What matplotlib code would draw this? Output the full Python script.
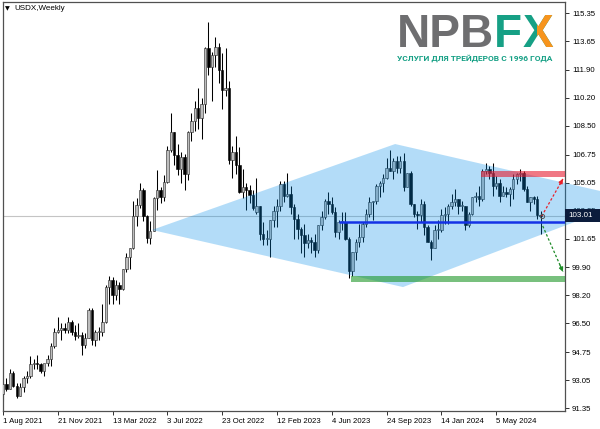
import matplotlib
matplotlib.use("Agg")
import matplotlib.pyplot as plt
from matplotlib.patches import Polygon, Rectangle
from matplotlib.transforms import IdentityTransform
import numpy as np

# ---------------- data (USDX weekly, from 1 Aug 2021) ----------------
opens = [92.2, 92.8, 92.5, 93.5, 92.7, 92.1, 92.6, 93.2, 93.3, 94.0,
         94.1, 94.0, 93.6, 94.1, 94.3, 95.1, 96.0, 96.1, 96.2, 96.1,
         96.6, 96.0, 95.7, 95.8, 95.2, 95.6, 97.3, 95.5, 96.0, 96.0,
         96.6, 98.7, 99.1, 98.2, 98.8, 98.6, 99.8, 100.5, 101.1, 103.0,
         103.7, 104.6, 103.0, 101.7, 102.1, 104.1, 104.6, 104.2, 105.1, 107.0,
         108.1, 106.7, 105.9, 106.6, 105.6, 108.1, 108.8, 109.6, 109.0, 109.8,
         113.2, 112.1, 112.8, 113.3, 111.9, 110.7, 110.8, 106.4, 106.9, 106.1,
         104.5, 104.8, 104.6, 104.3, 103.25, 103.65, 101.95, 101.65, 101.65, 102.75,
         103.35, 103.65, 104.95, 104.25, 104.35, 103.55, 102.85, 102.25, 101.85, 101.35,
         101.55, 101.45, 100.95, 102.45, 102.95, 103.95, 103.75, 103.25, 102.05, 102.65,
         102.65, 101.65, 99.65, 100.85, 101.45, 101.75, 102.55, 103.15, 103.85, 103.95,
         104.85, 105.05, 105.35, 105.95, 105.75, 106.35, 105.95, 106.35, 104.75, 105.65,
         103.75, 103.15, 103.05, 103.75, 102.35, 101.45, 101.05, 102.15, 102.15, 103.05,
         103.15, 103.65, 103.85, 104.05, 103.65, 103.65, 102.45, 103.15, 104.15, 104.25,
         104.05, 105.75, 105.85, 105.65, 104.85, 105.05, 104.25, 104.45, 104.35, 104.65,
         105.25, 105.55, 105.65, 104.65, 103.85, 104.15, 104.05, 103.05]
highs = [92.9, 93.2, 93.7, 93.6, 92.9, 92.9, 93.3, 93.6, 94.5, 94.3,
         94.6, 94.1, 94.0, 94.6, 95.3, 96.2, 96.9, 96.5, 96.5, 96.9,
         96.7, 96.4, 96.5, 96.0, 95.9, 97.4, 97.4, 96.1, 96.3, 97.7,
         98.8, 99.4, 99.3, 99.1, 99.0, 99.8, 100.8, 101.1, 103.9, 104.1,
         105.0, 104.7, 103.1, 102.7, 104.2, 105.8, 104.8, 105.5, 107.3, 109.3,
         108.1, 107.4, 106.9, 106.8, 108.2, 109.3, 110.0, 110.8, 110.2, 113.3,
         114.8, 113.0, 113.9, 113.5, 112.9, 113.2, 111.2, 107.3, 107.9, 107.2,
         105.9, 105.0, 104.9, 104.6, 105.35, 103.65, 102.65, 102.15, 102.75, 103.65,
         104.05, 105.15, 105.15, 105.65, 104.85, 103.75, 103.15, 102.35, 102.55, 101.95,
         101.75, 101.95, 102.45, 103.35, 104.05, 104.45, 104.15, 103.55, 102.75, 103.25,
         103.25, 101.75, 100.85, 101.65, 102.55, 102.65, 103.45, 104.15, 103.95, 104.95,
         105.15, 105.55, 106.55, 107.05, 106.55, 106.65, 106.65, 106.85, 105.65, 105.75,
         103.75, 103.35, 104.05, 103.95, 102.45, 101.55, 102.45, 102.75, 103.45, 103.55,
         103.75, 104.35, 104.65, 104.05, 103.95, 103.65, 103.25, 104.15, 104.45, 104.85,
         105.85, 106.25, 106.05, 106.25, 105.45, 105.25, 104.85, 104.75, 104.75, 105.55,
         105.65, 105.85, 105.75, 104.85, 104.15, 104.25, 104.25, 103.35]
lows = [91.8, 92.4, 92.5, 92.6, 91.95, 92.1, 92.3, 92.9, 93.2, 93.7,
        93.7, 93.5, 93.3, 93.9, 93.9, 95.0, 95.9, 95.5, 95.9, 95.9,
        95.8, 95.5, 95.6, 94.6, 95.0, 95.6, 95.2, 95.1, 95.5, 95.7,
        96.5, 97.7, 97.7, 97.9, 97.7, 98.5, 99.6, 99.8, 101.0, 102.4,
        103.5, 102.7, 101.4, 101.3, 102.1, 103.4, 103.8, 103.9, 105.0, 106.9,
        106.1, 105.5, 105.0, 104.6, 105.2, 107.6, 108.2, 108.3, 107.7, 109.3,
        111.6, 110.0, 112.1, 111.1, 109.5, 110.3, 106.2, 105.3, 105.6, 104.4,
        104.1, 103.4, 103.8, 103.4, 103.15, 101.55, 101.25, 101.25, 100.55, 102.35,
        102.35, 103.35, 103.85, 104.15, 103.15, 101.65, 101.65, 100.75, 100.55, 101.05,
        100.75, 100.55, 100.75, 102.15, 102.85, 103.15, 103.15, 101.75, 101.65, 102.15,
        101.55, 99.25, 99.35, 100.35, 101.15, 101.45, 102.35, 102.95, 102.75, 103.75,
        104.15, 104.45, 105.25, 105.75, 105.25, 105.65, 105.65, 104.55, 104.75, 103.65,
        102.95, 102.25, 102.65, 101.85, 101.45, 100.35, 101.05, 101.65, 102.05, 102.55,
        102.55, 103.45, 103.65, 103.15, 103.35, 102.15, 102.35, 103.05, 103.85, 103.65,
        103.95, 105.55, 105.25, 104.25, 104.65, 103.85, 104.25, 104.15, 103.65, 104.05,
        104.95, 105.15, 104.55, 103.85, 103.35, 103.75, 102.85, 101.95]
closes = [92.8, 92.5, 93.5, 92.7, 92.1, 92.6, 93.2, 93.3, 94.0, 94.1,
          94.0, 93.6, 94.1, 94.3, 95.1, 96.0, 96.1, 96.2, 96.1, 96.6,
          96.0, 95.7, 95.8, 95.2, 95.6, 97.3, 95.5, 96.0, 96.0, 96.6,
          98.7, 99.1, 98.2, 98.8, 98.6, 99.8, 100.5, 101.1, 103.0, 103.7,
          104.6, 103.0, 101.7, 102.1, 104.1, 104.6, 104.2, 105.1, 107.0, 108.1,
          106.7, 105.9, 106.6, 105.6, 108.1, 108.8, 109.6, 109.0, 109.8, 113.2,
          112.1, 112.8, 113.3, 111.9, 110.7, 110.8, 106.4, 106.9, 106.1, 104.5,
          104.8, 104.6, 104.3, 103.5, 103.65, 101.95, 101.65, 101.65, 102.75, 103.35,
          103.65, 104.95, 104.25, 104.35, 103.55, 102.85, 102.25, 101.85, 101.35, 101.55,
          101.45, 100.95, 102.45, 102.95, 103.95, 103.75, 103.25, 102.05, 102.65, 102.65,
          101.65, 99.65, 100.85, 101.45, 101.75, 102.55, 103.15, 103.85, 103.95, 104.85,
          105.05, 105.35, 105.95, 105.75, 106.35, 105.95, 106.35, 104.75, 105.65, 103.75,
          103.15, 103.05, 103.75, 102.35, 101.45, 101.05, 102.15, 102.15, 103.05, 103.15,
          103.65, 103.85, 104.05, 103.65, 103.65, 102.45, 103.15, 104.15, 104.25, 104.05,
          105.75, 105.85, 105.65, 104.85, 105.05, 104.25, 104.45, 104.35, 104.65, 105.25,
          105.55, 105.65, 104.65, 103.85, 104.15, 104.05, 103.05, 103.01]

date_labels = ["1 Aug 2021", "21 Nov 2021", "13 Mar 2022", "3 Jul 2022", "23 Oct 2022",
               "12 Feb 2023", "4 Jun 2023", "24 Sep 2023", "14 Jan 2024", "5 May 2024"]
date_weeks = [0, 16, 32, 48, 64, 80, 96, 112, 128, 144]
price_ticks = [115.35, 113.65, 111.90, 110.20, 108.50, 106.75, 105.05, 103.35,
               101.65, 99.90, 98.20, 96.50, 94.75, 93.05, 91.35]

last_price = 103.01
support_level = 102.67          # blue horizontal line
support_start = 98
resist_zone = (105.39, 105.75)  # red zone
resist_start = 139.6
target_zone = (99.00, 99.37)    # green zone
target_start = 101.6
diamond = [(43.5, 102.17), (114.5, 107.39), (184.6, 104.05), (116.8, 98.70)]

# ---------------- figure ----------------
W, H = 600, 429
fig = plt.figure(figsize=(W / 100, H / 100), dpi=100, facecolor="white")
ax = fig.add_axes([2.5 / W, 1 - 411 / H, 562.5 / W, 409 / H])
ax.set_facecolor("white")

x = np.arange(len(closes))
o = np.array(opens); c = np.array(closes); h = np.array(highs); l = np.array(lows)
bull = c >= o
ax.vlines(x, l, h, color="black", lw=0.75, zorder=2)
body_bot = np.minimum(o, c)
body_h = np.maximum(np.abs(c - o), 0.06)
ax.bar(x[bull], body_h[bull], bottom=body_bot[bull], width=0.7,
       color="#bdbdbd", edgecolor="#222222", lw=0.4, zorder=3)
ax.bar(x[~bull], body_h[~bull], bottom=body_bot[~bull], width=0.7,
       color="black", edgecolor="black", lw=0.4, zorder=3)

xmin, xmax = -0.15, 164.1
ax.set_xlim(xmin, xmax)
ax.set_ylim(91.17, 116.02)

# current price line
ax.axhline(last_price, color="#c4c4c4", lw=0.8, zorder=1)

# diamond (semi-transparent, extends past the axis)
ax.add_patch(Polygon(diamond, closed=True, facecolor="#058EE8", alpha=0.3,
                     edgecolor="none", zorder=4, clip_on=False))
# zones
ax.add_patch(Rectangle((resist_start, resist_zone[0]), xmax - resist_start,
                       resist_zone[1] - resist_zone[0], facecolor="#E61E32",
                       alpha=0.6, edgecolor="none", zorder=5))
ax.add_patch(Rectangle((target_start, target_zone[0]), xmax - target_start,
                       target_zone[1] - target_zone[0], facecolor="#1E9628",
                       alpha=0.6, edgecolor="none", zorder=5))
ax.hlines(support_level, support_start, xmax, color="#1432E6", lw=1.8, zorder=6)

# forecast arrows
def dotted_arrow(x0, y0, x1, y1, col):
    ax.plot([x0, x1], [y0, y1], color=col, lw=0.9, ls=(0, (2, 1.6)), zorder=7)
    ax.annotate("", xy=(x1, y1), xytext=(x0 + (x1 - x0) * 0.85, y0 + (y1 - y0) * 0.85),
                arrowprops=dict(arrowstyle="-|>", color=col, lw=0.9,
                                mutation_scale=6, shrinkA=0, shrinkB=0), zorder=7)

dotted_arrow(157.3, 103.01, 163.5, 105.27, "#E8202A")
dotted_arrow(157.6, 102.41, 163.5, 99.63, "#1E8C28")
ax.plot([157.3], [103.01], marker="o", ms=3, mfc="none", mec="#555555", mew=0.7, zorder=8)

# axes styling
for s in ax.spines.values():
    s.set_color("#505050"); s.set_linewidth(0.9)
ax.yaxis.tick_right()
ax.set_yticks(price_ticks)
ax.set_yticklabels([f"{v:.2f}" for v in price_ticks])
ax.set_xticks(date_weeks)
ax.set_xticklabels(date_labels, ha="left")
ax.tick_params(axis="both", direction="out", length=3, width=0.7, color="#303030",
               labelsize=5.6, labelcolor="black", pad=2)
for t in ax.get_xticklabels() + ax.get_yticklabels():
    t.set_fontfamily("Liberation Sans")

# current price label box
fig.add_artist(Rectangle((565 / W, 1 - 222 / H), 35 / W, 13 / H, transform=fig.transFigure,
                         facecolor="#0c1c3c", edgecolor="none", zorder=20))
fig.text(568 / W, 1 - 215.5 / H, f"{last_price:.2f}", color="white", fontsize=5.8,
         family="Liberation Sans", va="center", ha="left", zorder=21)

# title
fig.text(5 / W, 1 - 9 / H, "\u25BC", fontsize=4.5, family="DejaVu Sans", va="center")
fig.text(14 / W, 1 - 9 / H, "USDX,Weekly", fontsize=5.8, family="Liberation Sans", va="center")

# ---------------- logo ----------------
logo_font = "Liberation Sans"
gray, teal, orange = "#6e6e70", "#16a085", "#F7941D"
fig.canvas.draw()
r = fig.canvas.get_renderer()
x0 = 397
base = 1 - 47 / H
t1 = fig.text(x0 / W, base, "NPB", fontsize=33, weight="bold", family=logo_font,
              color=gray, va="baseline", ha="left")
e1 = t1.get_window_extent(r)
t2 = fig.text(e1.x1 / W, base, "F", fontsize=33, weight="bold", family=logo_font,
              color=teal, va="baseline", ha="left")
e2 = t2.get_window_extent(r)
t3 = fig.text(e2.x1 / W, base, "X", fontsize=33, weight="bold", family=logo_font,
              color=teal, va="baseline", ha="left")
e3 = t3.get_window_extent(r)
t4 = fig.text(e2.x1 / W, base, "X", fontsize=33, weight="bold", family=logo_font,
              color=orange, va="baseline", ha="left")
clip = Rectangle(((e3.x0 + e3.x1) / 2, 0), 1000, 1000, transform=IdentityTransform())
t4.set_clip_path(clip)

sub_text = "УСЛУГИ ДЛЯ ТРЕЙДЕРОВ С 1996 ГОДА"
sub = fig.text(x0 / W, 1 - 58 / H, sub_text, fontsize=7, weight="bold",
               family=["Roboto", "DejaVu Sans"], color=teal, va="center", ha="left")
sw = sub.get_window_extent(r).width
sub.set_fontsize(7 * 156.0 / sw)

fig.savefig("out.png", dpi=100, facecolor="white")
